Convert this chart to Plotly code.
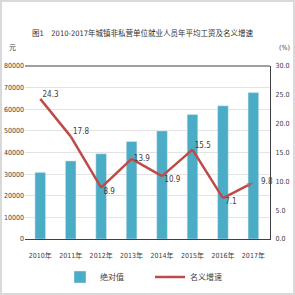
import plotly.graph_objects as go

years = ["2010年", "2011年", "2012年", "2013年", "2014年", "2015年", "2016年", "2017年"]
absolute = [30800, 36100, 39400, 45100, 50000, 57600, 61600, 67700]
growth = [24.3, 17.8, 8.9, 13.9, 10.9, 15.5, 7.1, 9.8]
label_pos = ["top right", "top right", "bottom right", "middle right",
             "bottom right", "top right", "bottom right", "middle right"]

FONT = "DejaVu Sans Condensed, Noto Sans CJK SC, sans-serif"
W, H = 295, 295
ML, MR, MT, MB = 25, 25, 66, 56
PW, PH = W - ML - MR, H - MT - MB

fig = go.Figure()
fig.add_trace(go.Bar(
    x=years, y=absolute, name="绝对值", marker_color="#4BACC6",
    width=0.35, yaxis="y", legend="legend"))
fig.add_trace(go.Scatter(
    x=years, y=growth, name="名义增速", yaxis="y2", mode="lines+markers+text",
    line=dict(color="#BE4B48", width=2.5), legend="legend2", cliponaxis=False,
    marker=dict(symbol="arrow", angleref="previous", color="#BE4B48",
                size=[0] * (len(growth) - 1) + [7], line=dict(width=0)),
    text=[" " + f"{v:.1f}" for v in growth], textposition=label_pos,
    textfont=dict(size=8, color="#404040", family=FONT)))

leg_common = dict(orientation="h", yanchor="middle", y=-(38 / PH),
                  xanchor="left", font=dict(size=8), itemwidth=30,
                  bgcolor="rgba(0,0,0,0)")

fig.update_layout(
    width=W, height=H, margin=dict(l=ML, r=MR, t=MT, b=MB, autoexpand=False),
    paper_bgcolor="white", plot_bgcolor="white",
    font=dict(family=FONT, size=7, color="#404040"),
    showlegend=True,
    legend=dict(x=(60 - ML) / PW, **leg_common),
    legend2=dict(x=(150 - ML) / PW, **leg_common),
    bargap=0.5,
    xaxis=dict(showgrid=False, showline=True, linecolor="#404040", linewidth=1,
               ticks="", tickangle=0, tickfont=dict(size=7),
               ticklabelstandoff=10, automargin=False),
    yaxis=dict(range=[0, 80000], dtick=10000, tickformat="d", showgrid=True,
               gridcolor="#E3E3E3", zeroline=False, showline=False,
               tickfont=dict(size=7), ticks="", automargin=False),
    yaxis2=dict(range=[0, 30], dtick=5, tickformat=".1f", overlaying="y", side="right",
                showgrid=False, zeroline=False, showline=True, linecolor="#404040",
                linewidth=1, tickfont=dict(size=7), ticklabelstandoff=3,
                automargin=False),
    shapes=[
        dict(type="line", xref="paper", yref="paper", x0=0, x1=1, y0=1, y1=1,
             line=dict(color="#404040", width=1)),
        dict(type="rect", xref="paper", yref="paper",
             x0=-(ML - 1) / PW, x1=1 + (MR - 1) / PW,
             y0=-(MB - 1) / PH, y1=1 + (MT - 1) / PH,
             line=dict(color="#D9D9D9", width=2), layer="below"),
    ],
    annotations=[
        dict(text="图1　2010-2017年城镇非私营单位就业人员年平均工资及名义增速",
             xref="paper", yref="paper", x=0.48, y=1 + (MT - 33) / PH,
             xanchor="center", yanchor="middle", showarrow=False,
             font=dict(size=7.5, color="#303030", family=FONT)),
        dict(text="元", xref="paper", yref="paper", x=-(ML - 7) / PW,
             y=1 + (MT - 48) / PH, xanchor="left", yanchor="middle",
             showarrow=False, font=dict(size=7)),
        dict(text="(%)", xref="paper", yref="paper", x=1 + (MR - 3) / PW,
             y=1 + (MT - 48) / PH, xanchor="right", yanchor="middle",
             showarrow=False, font=dict(size=7)),
    ],
)

fig.write_html("out.html")
